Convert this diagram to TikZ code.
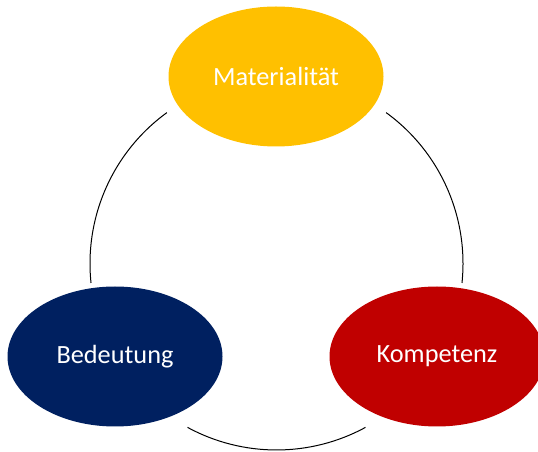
\documentclass[tikz,border=0pt]{standalone}
\usepackage{fontspec}
\setmainfont{Carlito}
\usepackage{tikz}
\usetikzlibrary{shapes,positioning}
\definecolor{mycolor1}{RGB}{255,192,0}
\definecolor{mycolor2}{RGB}{0,32,96}
\definecolor{mycolor3}{RGB}{192,0,0}

\begin{document}
\begin{tikzpicture}[x=1pt, y=1pt,%
    block/.style = {ellipse, minimum width = 215pt, minimum height = 140pt, inner sep=0pt, text=white, font=\fontsize{26.3}{30}\selectfont},
    ring/.style  = {draw, line width=1pt}]

  \useasboundingbox (0,0) rectangle (538,452);
  \coordinate (ctr) at (276.5,188.5);
  \draw (276,375.5) node[block, fill=mycolor1] (Mat) {Materialität};
  \draw (115,95.5) node[block, fill=mycolor2] (Bed) {Bedeutung};
  \draw (437,95.5) node[block, fill=mycolor3] (Kom) {Kompetenz};

  % Verbindungen im Kreis
  \draw [ring] ([shift={(126:186.5)}]ctr) arc[start angle=126, end angle=186, radius=186.5];
  \draw [ring] ([shift={(54:186.5)}]ctr) arc[start angle=54, end angle=-6, radius=186.5];
  \draw [ring] ([shift={(241.5:186.5)}]ctr) arc[start angle=241.5, end angle=298.5, radius=186.5];

\end{tikzpicture}
\end{document}
